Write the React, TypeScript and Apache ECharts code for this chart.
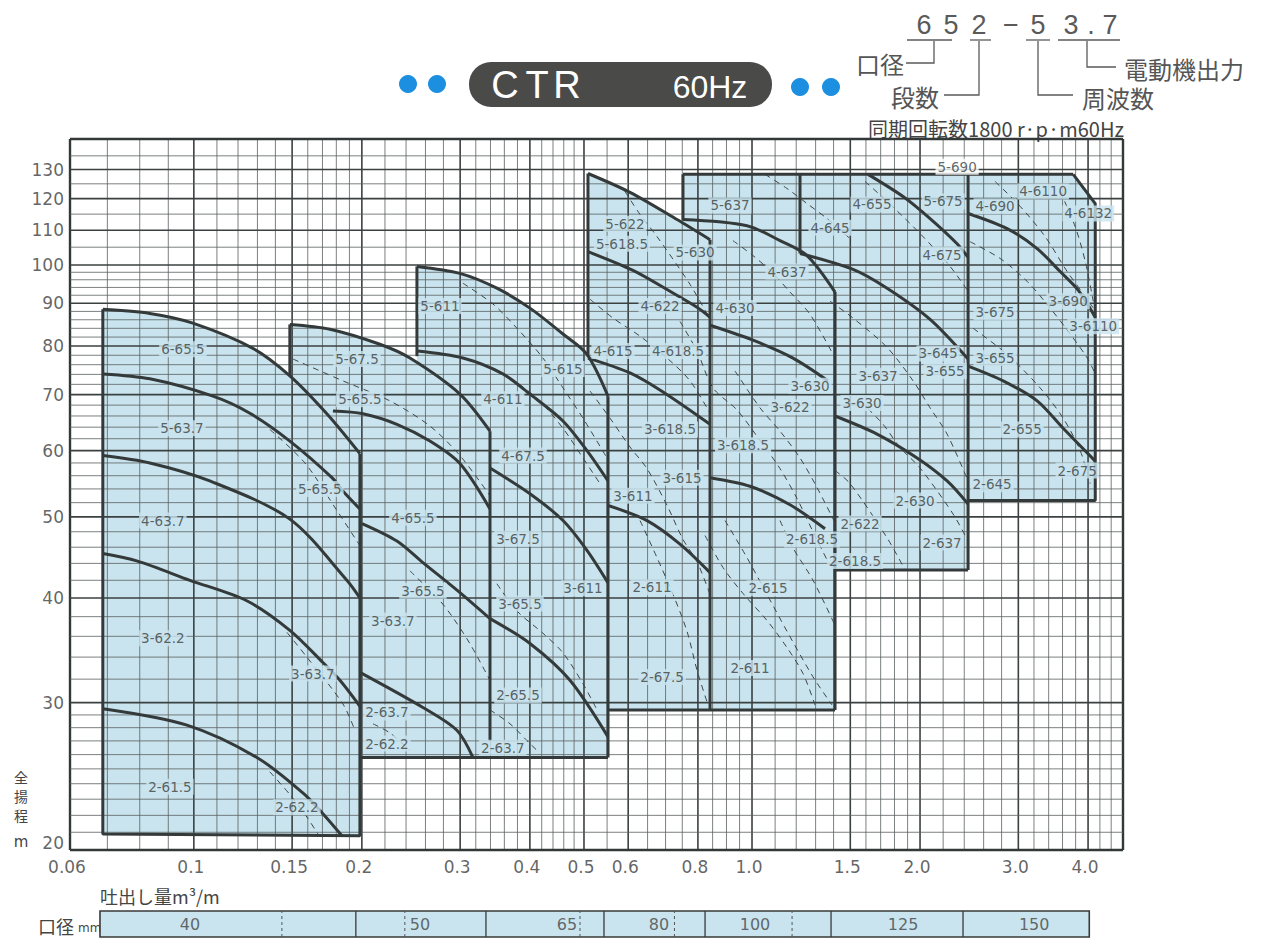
import React, { useEffect, useRef } from "react";
import * as echarts from "echarts";

// ---- axis extents: flow (m³/min) × total head (m), log–log paper ----
const Q_MIN = 0.06;
const Q_MAX = 4.62;
const H_MIN = 20;
const H_MAX = 141.4;

const xTickValues = [0.06, 0.1, 0.15, 0.2, 0.3, 0.4, 0.5, 0.6, 0.8, 1.0, 1.5, 2.0, 3.0, 4.0];
const xTickLabels = ["0.06", "0.1", "0.15", "0.2", "0.3", "0.4", "0.5", "0.6", "0.8", "1.0", "1.5", "2.0", "3.0", "4.0"];
const yTickValues = [20, 30, 40, 50, 60, 70, 80, 90, 100, 110, 120, 130];

const flowGridMinor = [0.07, 0.08, 0.09, 0.11, 0.12, 0.13, 0.14, 0.16, 0.17, 0.18, 0.19, 0.22, 0.24, 0.26, 0.28, 0.32, 0.34, 0.36, 0.38, 0.42, 0.44, 0.46, 0.48, 0.55, 0.65, 0.7, 0.75, 0.85, 0.9, 0.95, 1.1, 1.2, 1.3, 1.4, 1.6, 1.7, 1.8, 1.9, 2.2, 2.4, 2.6, 2.8, 3.2, 3.4, 3.6, 3.8, 4.2, 4.4];
const flowGridMajor = [0.1, 0.15, 0.2, 0.3, 0.4, 0.5, 0.6, 0.8, 1.0, 1.5, 2.0, 3.0, 4.0];
const headGridMinor = [21, 22, 23, 24, 25, 26, 27, 28, 29, 32, 34, 36, 38, 42, 44, 46, 48, 52, 54, 56, 58, 62, 64, 66, 68, 72, 74, 76, 78, 82, 84, 86, 88, 92, 94, 96, 98, 105, 115, 125, 135];
const headGridMajor = [30, 40, 50, 60, 70, 80, 90, 100, 110, 120, 130];

// ---- selection areas per bore (40 / 50 / 65 / 80 / 100 / 125 / 150 mm) ----
const region40 = [[0.0687, 88.5], [0.0834, 87.5], [0.0996, 85.2], [0.1276, 79.5], [0.1486, 73.7], [0.1731, 66.4], [0.1984, 59.5], [0.1984, 20.8], [0.0687, 20.9]];
const region50 = [[0.1486, 84.9], [0.1753, 83.8], [0.2154, 80.4], [0.2439, 77.4], [0.2997, 70.1], [0.3393, 63.3], [0.3393, 25.8], [0.1486, 25.8]];
const region65 = [[0.251, 99.6], [0.2997, 97.7], [0.3491, 93.8], [0.4001, 88.8], [0.4585, 82.7], [0.5062, 78.2], [0.5521, 69.7], [0.5521, 25.8], [0.251, 25.8]];
const region80 = [[0.5083, 128.6], [0.6045, 122.1], [0.7339, 113.3], [0.841, 107.2], [0.841, 29.4], [0.5083, 29.4]];
const region100 = [[0.7522, 128.3], [1.4085, 128.3], [1.4085, 29.4], [0.7522, 29.4]];
const region125 = [[1.219, 128.3], [2.4384, 128.3], [2.4384, 43.2], [1.219, 43.2]];
const region150 = [[2.4384, 128.3], [3.762, 128.3], [4.1203, 118.4], [4.1203, 52.3], [2.4384, 52.3]];

// visible outline edges of the areas
const areaEdges = [
  [[0.0687, 88.5], [0.0687, 20.9], [0.1984, 20.8], [0.1984, 59.5]],
  [[0.1486, 84.9], [0.1486, 73.7]],
  [[0.3393, 63.3], [0.3393, 27.0]],
  [[0.1984, 25.8], [0.5521, 25.8]],
  [[0.251, 99.6], [0.251, 77.8]],
  [[0.5521, 69.7], [0.5521, 25.8]],
  [[0.5083, 128.6], [0.5083, 77.8]],
  [[0.841, 107.2], [0.841, 29.4]],
  [[0.5521, 29.4], [1.4085, 29.4]],
  [[0.7522, 128.3], [3.762, 128.3]],
  [[0.7522, 128.3], [0.7522, 113.0]],
  [[1.4085, 92.8], [1.4085, 29.4]],
  [[1.219, 128.3], [1.219, 103.2]],
  [[2.4384, 128.3], [2.4384, 43.2]],
  [[1.4085, 43.2], [2.4384, 43.2]],
  [[3.762, 128.3], [4.1203, 118.4], [4.1203, 52.3], [2.4384, 52.3]],
];

// ---- head–capacity curves (solid) ----
const curves40 = [
  [[0.0687, 88.5], [0.0834, 87.5], [0.0996, 85.2], [0.1276, 79.5], [0.1486, 73.7], [0.1731, 66.4], [0.1984, 59.5]],
  [[0.0687, 74.1], [0.0834, 73.1], [0.1082, 69.7], [0.126, 66.5], [0.1486, 61.6], [0.1768, 55.7], [0.1849, 53.7], [0.1984, 51.1]],
  [[0.0687, 59.2], [0.0834, 58.0], [0.1068, 55.2], [0.1486, 49.7], [0.188, 42.0], [0.1984, 40.0]],
  [[0.0687, 45.2], [0.079, 44.3], [0.0984, 42.0], [0.1244, 39.7], [0.1486, 36.6], [0.1703, 33.5], [0.1827, 31.9], [0.1984, 29.7]],
  [[0.0687, 29.5], [0.0972, 28.2], [0.1297, 25.8], [0.1568, 23.4], [0.1703, 22.1], [0.1842, 20.8]],
];
const curves50 = [
  [[0.1486, 84.9], [0.1753, 83.8], [0.2154, 80.4], [0.2439, 77.4], [0.2997, 70.1], [0.3393, 63.3]],
  [[0.1775, 66.9], [0.2009, 66.4], [0.2311, 64.5], [0.2648, 61.6], [0.2997, 57.9], [0.3393, 51.1]],
  [[0.2001, 49.1], [0.2311, 46.8], [0.2573, 44.1], [0.2972, 40.8], [0.3393, 37.8]],
  [[0.1984, 32.6], [0.2573, 29.6], [0.296, 27.8], [0.3162, 25.8]],
];
const curves65 = [
  [[0.251, 99.6], [0.2997, 97.7], [0.3491, 93.8], [0.4001, 88.8], [0.4585, 82.7], [0.5062, 78.2], [0.5521, 69.7]],
  [[0.251, 78.9], [0.3034, 77.4], [0.3578, 74.1], [0.4001, 70.1], [0.4585, 65.1], [0.5062, 60.0], [0.5521, 55.2]],
  [[0.3393, 57.2], [0.4001, 53.3], [0.4585, 49.5], [0.5062, 45.6], [0.5521, 41.7]],
  [[0.3393, 37.8], [0.4001, 35.3], [0.4719, 31.9], [0.5521, 27.3]],
];
const curves80 = [
  [[0.5083, 128.6], [0.6045, 122.1], [0.7339, 113.3], [0.841, 107.2]],
  [[0.5083, 103.7], [0.612, 98.5], [0.7129, 93.0], [0.797, 89.0], [0.841, 86.6]],
  [[0.5083, 77.4], [0.6045, 74.3], [0.6928, 70.5], [0.841, 64.5]],
  [[0.5521, 51.6], [0.6485, 49.5], [0.743, 46.4], [0.841, 42.9]],
];
const curves100 = [
  [[0.7522, 113.3], [0.9795, 111.4], [1.1225, 106.9], [1.2547, 102.6], [1.4085, 92.8]],
  [[0.841, 84.7], [1.0042, 81.3], [1.1844, 77.4], [1.3683, 72.7]],
  [[0.841, 55.7], [0.9918, 54.4], [1.1698, 51.7], [1.3513, 48.4]],
];
const curves125 = [
  [[1.614, 128.3], [1.8648, 120.7], [2.0845, 113.6], [2.3304, 106.0], [2.4384, 102.1]],
  [[1.219, 103.2], [1.5171, 98.8], [1.7458, 93.8], [2.0845, 86.1], [2.4384, 77.2]],
  [[1.4085, 66.0], [1.6749, 62.8], [1.9758, 58.8], [2.2361, 55.2], [2.4384, 51.8]],
];
const curves150 = [
  [[2.4384, 115.2], [2.8643, 110.5], [3.242, 104.6], [3.5649, 98.2], [3.8403, 93.3], [4.1203, 86.6]],
  [[2.4384, 75.7], [2.8173, 72.7], [3.242, 68.8], [3.6093, 63.8], [4.1203, 58.3]],
];

// ---- alternative-motor curves (dashed) ----
const dashedCurves = [
  [[0.1368, 63.6], [0.1581, 58.0], [0.1804, 50.9], [0.1984, 46.2]],
  [[0.1468, 36.4], [0.1594, 34.0], [0.1849, 29.9], [0.1943, 27.8]],
  [[0.1368, 24.8], [0.1486, 23.3], [0.1594, 21.9], [0.1668, 20.9]],
  [[0.1505, 77.2], [0.1849, 72.7], [0.2245, 68.8], [0.2648, 64.2], [0.2997, 59.2], [0.3393, 53.0]],
  [[0.2439, 43.1], [0.276, 39.7], [0.2912, 37.9], [0.3122, 35.3], [0.3393, 31.9]],
  [[0.2094, 28.3], [0.2245, 27.6], [0.2439, 26.3]],
  [[0.3034, 95.1], [0.3435, 89.8], [0.3793, 84.0], [0.4222, 77.4], [0.4585, 71.3], [0.4979, 65.6], [0.5498, 58.8]],
  [[0.3685, 73.3], [0.4119, 69.3], [0.4585, 63.8], [0.4979, 58.8], [0.5341, 54.8]],
  [[0.3491, 41.6], [0.3793, 38.6], [0.4222, 36.3], [0.4585, 34.4], [0.4979, 31.6], [0.5277, 29.4]],
  [[0.3393, 29.4], [0.3685, 28.3], [0.4001, 26.8], [0.417, 26.1]],
  [[0.5921, 122.4], [0.6301, 114.9], [0.6758, 108.1], [0.7743, 94.8], [0.841, 86.1]],
  [[0.5126, 91.0], [0.5636, 86.4], [0.6301, 82.2], [0.7044, 77.4], [0.7743, 72.7], [0.841, 66.5]],
  [[0.5126, 70.7], [0.5567, 65.6], [0.6045, 60.6], [0.6485, 57.1], [0.7044, 51.6], [0.7522, 47.0], [0.797, 44.2], [0.841, 40.4]],
  [[0.6301, 49.5], [0.6758, 44.7], [0.7219, 40.4], [0.7648, 36.5], [0.797, 32.8], [0.8341, 29.8]],
  [[0.9322, 74.7], [1.0335, 67.5], [1.1225, 63.3], [1.219, 58.8], [1.3077, 54.2], [1.4085, 49.2]],
  [[0.8239, 47.5], [0.8873, 43.5], [0.9636, 40.5], [1.0639, 37.6], [1.1553, 34.9], [1.2342, 32.5], [1.2968, 29.8]],
  [[1.1225, 49.5], [1.1844, 45.9], [1.2862, 42.0], [1.4085, 37.1]],
  [[0.743, 85.6], [0.797, 78.9], [0.8514, 71.3], [0.94, 67.1], [1.0335, 61.7], [1.1225, 57.1], [1.204, 52.6], [1.2862, 48.0], [1.3797, 43.7]],
  [[0.9245, 106.9], [1.0042, 102.6], [1.0905, 97.7], [1.1698, 92.8], [1.2703, 87.3], [1.4085, 77.4]],
  [[0.8947, 49.5], [0.9795, 44.7], [1.0639, 40.4], [1.1553, 36.5], [1.2862, 32.2], [1.3912, 29.8]],
  [[1.0551, 128.3], [1.1553, 123.4], [1.2547, 118.4], [1.3626, 113.6], [1.4986, 107.5]],
  [[1.594, 125.8], [1.7458, 119.1], [2.0004, 109.0], [2.2637, 99.6], [2.4384, 93.0]],
  [[1.3797, 90.5], [1.5171, 86.4], [1.7458, 79.7], [1.9434, 72.7], [2.0845, 67.5], [2.2361, 62.8], [2.4384, 55.2]],
  [[1.5614, 68.8], [1.7172, 64.5], [1.8418, 60.5], [2.0004, 57.2], [2.292, 50.4], [2.4384, 46.8]],
  [[1.4085, 56.8], [1.4986, 54.8], [1.7458, 47.2], [1.8803, 43.2]],
  [[2.7258, 125.8], [3.022, 117.5], [3.3509, 108.1], [3.6696, 98.2], [3.9534, 91.7], [4.1203, 88.1]],
  [[2.4587, 106.6], [2.7826, 101.8], [3.1101, 95.6], [3.421, 88.8], [3.7155, 82.7], [3.9863, 77.4], [4.1203, 74.1]],
  [[2.4895, 84.0], [2.8643, 78.2], [3.2822, 71.3], [3.6093, 65.6], [3.8723, 60.0], [4.0358, 54.8]],
  [[3.5649, 122.4], [3.7933, 111.1], [3.9534, 101.0], [4.0862, 90.5]],
];

// ---- model labels: stages-60Hz motor kW ----
const labels40 = [[0.0956, 79.3, "6-65.5"], [0.0952, 63.8, "5-63.7"], [0.088, 49.5, "4-63.7"], [0.088, 35.8, "3-62.2"], [0.0906, 23.8, "2-61.5"], [0.1682, 54.0, "5-65.5"], [0.1634, 32.5, "3-63.7"], [0.153, 22.5, "2-62.2"]];
const labels50 = [[0.196, 77.2, "5-67.5"], [0.1984, 69.1, "5-65.5"], [0.2469, 49.9, "4-65.5"], [0.2573, 40.8, "3-65.5"], [0.2273, 37.6, "3-63.7"], [0.2218, 29.2, "2-63.7"], [0.2218, 26.8, "2-62.2"]];
const labels65 = [[0.276, 89.3, "5-611"], [0.3578, 69.1, "4-611"], [0.4585, 75.1, "5-615"], [0.3888, 59.2, "4-67.5"], [0.3808, 47.1, "3-67.5"], [0.4979, 41.1, "3-611"], [0.384, 39.4, "3-65.5"], [0.3808, 30.6, "2-65.5"], [0.3578, 26.5, "2-63.7"]];
const labels80 = [[0.5636, 78.9, "4-615"], [0.5921, 112.0, "5-622"], [0.5848, 106.0, "5-618.5"], [0.7904, 103.5, "5-630"], [0.6842, 89.3, "4-622"], [0.737, 78.9, "4-618.5"], [0.7129, 63.6, "3-618.5"], [0.7492, 55.7, "3-615"], [0.612, 53.0, "3-611"], [0.662, 41.2, "2-611"], [0.69, 32.2, "2-67.5"]];
const labels100 = [[0.9132, 117.8, "5-637"], [1.1553, 98.2, "4-637"], [0.9322, 88.8, "4-630"], [1.2703, 71.7, "3-630"], [1.1698, 67.6, "3-622"], [0.9636, 60.9, "3-618.5"], [1.2809, 47.0, "2-618.5"], [1.0683, 41.1, "2-615"], [0.9918, 33.0, "2-611"]];
const labels125 = [[1.3797, 110.8, "4-645"], [1.6407, 118.1, "4-655"], [2.1994, 119.1, "5-675"], [2.1903, 102.9, "4-675"], [2.1543, 78.4, "3-645"], [2.2177, 74.7, "3-655"], [1.6818, 73.7, "3-637"], [1.5744, 68.4, "3-630"], [1.9595, 52.3, "2-630"], [1.5614, 49.1, "2-622"], [1.5298, 44.3, "2-618.5"], [2.1903, 46.6, "2-637"]];
const labels150 = [[2.3304, 131.0, "5-690"], [2.7258, 117.5, "4-690"], [3.3232, 122.4, "4-6110"], [4.0029, 115.2, "4-6132"], [3.6849, 90.5, "3-690"], [2.7258, 87.8, "3-675"], [4.0862, 84.5, "3-6110"], [2.7258, 77.4, "3-655"], [3.0471, 63.6, "2-655"], [3.8245, 56.8, "2-675"], [2.6922, 54.7, "2-645"]];

// ---- bore strip under the chart ----
const boreStripRange = [0.0679, 4.02];
const boreSolidDividers = [0.1951, 0.3337, 0.543, 0.8239, 1.3855, 2.388];
const boreDashedDividers = [0.1438, 0.2388, 0.4918, 0.7262, 1.1797];
const boreLabelFlows = [0.0984, 0.2541, 0.4661, 0.6813, 1.0125, 1.8648, 3.203];
const boreLabelTexts = ["40", "50", "65", "80", "100", "125", "150"];

const BLUE = "#c9e4ee";
const INK = "#343a3a";
const DOT = "#1d8fe0";
const GREY = "#555";
const CJK = '"Noto Sans CJK JP"';

function buildOption() {
  const regions = [region40, region50, region65, region80, region100, region125, region150];
  const gridStyles = [
    { stroke: "#5a5f60", lineWidth: 0.8, fill: null },
    { stroke: "#3b4041", lineWidth: 1.6, fill: null },
    { stroke: "#333838", lineWidth: 2.4, fill: null },
  ];
  const series: any[] = [];

  series.push({
    type: "custom", z: 1, silent: true,
    data: regions.map((r) => r[0]),
    renderItem: (params: any, api: any) => ({
      type: "polygon",
      shape: { points: regions[params.dataIndex].map((p) => api.coord(p)) },
      style: { fill: BLUE },
    }),
  });

  series.push({
    type: "custom", z: 2, silent: true, clip: false,
    data: [
      ...flowGridMinor.map((q) => [q, H_MIN, 0]),
      ...flowGridMajor.map((q) => [q, H_MIN, 1]),
      [Q_MIN, H_MIN, 2], [Q_MAX, H_MIN, 2],
    ],
    renderItem: (_p: any, api: any) => {
      const q = api.value(0);
      const a = api.coord([q, H_MIN]);
      const b = api.coord([q, H_MAX]);
      return { type: "line", shape: { x1: a[0], y1: a[1], x2: b[0], y2: b[1] }, style: gridStyles[api.value(2)] };
    },
  });

  series.push({
    type: "custom", z: 2, silent: true, clip: false,
    data: [
      ...headGridMinor.map((h) => [Q_MIN, h, 0]),
      ...headGridMajor.map((h) => [Q_MIN, h, 1]),
      [Q_MIN, H_MIN, 2], [Q_MIN, H_MAX, 2],
    ],
    renderItem: (_p: any, api: any) => {
      const h = api.value(1);
      const a = api.coord([Q_MIN, h]);
      const b = api.coord([Q_MAX, h]);
      return { type: "line", shape: { x1: a[0], y1: a[1], x2: b[0], y2: b[1] }, style: gridStyles[api.value(2)] };
    },
  });

  const line = (pts: any, width: number, color: string, type: any, smooth: any, z: number) => ({
    type: "line", data: pts, symbol: "none", showSymbol: false, silent: true, smooth, z,
    lineStyle: { width, color, type }, emphasis: { disabled: true },
  });

  dashedCurves.forEach((pts) => series.push(line(pts, 1, "#3f4545", [6, 5], 0.3, 3)));
  [...curves40, ...curves50, ...curves65, ...curves80, ...curves100, ...curves125, ...curves150].forEach((pts) =>
    series.push(line(pts, 3, INK, "solid", 0.3, 4))
  );
  areaEdges.forEach((pts) => series.push(line(pts, 3, INK, "solid", false, 4)));

  const allLabels = [...labels40, ...labels50, ...labels65, ...labels80, ...labels100, ...labels125, ...labels150];
  series.push({
    type: "scatter", z: 6, silent: true, symbolSize: 0, clip: false,
    data: allLabels.map(([q, h, t]: any) => ({
      value: [q, h], name: t,
      label: t === "5-690" ? { backgroundColor: "#fff" } : undefined,
    })),
    label: {
      show: true, position: "inside", formatter: "{b}",
      fontFamily: "DejaVu Sans", fontSize: 13.5, color: "#3a3f3f",
      backgroundColor: BLUE, padding: [1, 2],
    },
  });

  // tick labels
  series.push({
    type: "scatter", z: 6, silent: true, symbolSize: 0, clip: false,
    data: xTickValues.map((v, i) => ({ value: [v, H_MIN], name: xTickLabels[i] })),
    label: { show: true, position: "bottom", distance: 8, offset: [-3, 0], formatter: "{b}", fontFamily: "DejaVu Sans", fontSize: 17, color: "#3c3c3c" },
  });
  series.push({
    type: "scatter", z: 6, silent: true, symbolSize: 0, clip: false,
    data: yTickValues.map((v) => ({
      value: [Q_MIN, v], name: String(v),
      label: v === H_MIN ? { offset: [0, -7] } : undefined,
    })),
    label: { show: true, position: "left", distance: 6, formatter: "{b}", fontFamily: "DejaVu Sans", fontSize: 17, color: "#3c3c3c" },
  });

  // bore strip
  series.push({
    type: "custom", xAxisIndex: 1, yAxisIndex: 1, silent: true, clip: false,
    data: [[boreStripRange[0], 0]],
    renderItem: (_p: any, api: any) => {
      const a = api.coord([boreStripRange[0], 1]);
      const b = api.coord([boreStripRange[1], 0]);
      return { type: "rect", shape: { x: a[0], y: a[1], width: b[0] - a[0], height: b[1] - a[1] }, style: { fill: BLUE, stroke: "#3a3a3a", lineWidth: 1.6 } };
    },
  });
  series.push({
    type: "custom", xAxisIndex: 1, yAxisIndex: 1, silent: true, clip: false, z: 3,
    data: [...boreSolidDividers.map((q) => [q, 0, 0]), ...boreDashedDividers.map((q) => [q, 0, 1])],
    renderItem: (_p: any, api: any) => {
      const q = api.value(0);
      const a = api.coord([q, 0]);
      const b = api.coord([q, 1]);
      const dashed = api.value(2) === 1;
      return {
        type: "line", shape: { x1: a[0], y1: a[1], x2: b[0], y2: b[1] },
        style: { stroke: dashed ? "#555" : "#3a3a3a", lineWidth: dashed ? 1 : 1.3, lineDash: dashed ? [3, 3] : null, fill: null },
      };
    },
  });
  series.push({
    type: "scatter", xAxisIndex: 1, yAxisIndex: 1, z: 6, silent: true, symbolSize: 0, clip: false,
    data: boreLabelFlows.map((q, i) => ({ value: [q, 0.5], name: boreLabelTexts[i] })),
    label: { show: true, position: "inside", formatter: "{b}", fontFamily: "DejaVu Sans", fontSize: 16, color: "#444" },
  });

  const txt = (text: string, x: number, y: number, font: string, fill: string, align = "center", extra: any = {}) => ({
    type: "text", x, y, silent: true,
    style: { text, font, fill, textAlign: align, textVerticalAlign: "middle", align, verticalAlign: "middle", ...extra },
  });

  const codeChars = [["6", 924], ["5", 951], ["2", 979], ["−", 1011], ["5", 1038], ["3", 1071], [".", 1091], ["7", 1110]];
  const codeUnderlines = [[907, 952], [970, 991], [1026, 1050], [1058, 1120]];
  const codeBrackets = [
    [[934, 41], [934, 63], [906, 63]],
    [[979, 41], [979, 95], [944, 95]],
    [[1038, 41], [1038, 95], [1073, 95]],
    [[1087, 41], [1087, 67], [1116, 67]],
  ];

  const graphic: any[] = [
    { type: "circle", shape: { cx: 408, cy: 84, r: 9 }, style: { fill: DOT } },
    { type: "circle", shape: { cx: 437, cy: 84, r: 9 }, style: { fill: DOT } },
    { type: "circle", shape: { cx: 800, cy: 87, r: 9 }, style: { fill: DOT } },
    { type: "circle", shape: { cx: 831, cy: 87, r: 9 }, style: { fill: DOT } },
    { type: "rect", shape: { x: 469, y: 62, width: 303, height: 45, r: 22 }, style: { fill: "#4a4a48" } },
    txt("C", 505, 85, '38px "Liberation Sans"', "#fff"),
    txt("T", 537, 85, '38px "Liberation Sans"', "#fff"),
    txt("R", 567, 85, '38px "Liberation Sans"', "#fff"),
    txt("60Hz", 710, 87, '32px "Liberation Sans"', "#fff"),
    ...codeChars.map(([c, x]: any) => txt(c, x, 25, '27px "Liberation Sans"', "#5a5a5a")),
    ...codeUnderlines.map(([x1, x2]) => ({ type: "line", shape: { x1, y1: 40, x2, y2: 40 }, style: { stroke: "#5a5a5a", lineWidth: 1.3 } })),
    ...codeBrackets.map((pts) => ({ type: "polyline", shape: { points: pts }, style: { stroke: "#5a5a5a", lineWidth: 1.3, fill: null } })),
    txt("口径", 880, 63, `24px ${CJK}`, GREY),
    txt("段数", 915, 96, `24px ${CJK}`, GREY),
    txt("周波数", 1118, 97, `24px ${CJK}`, GREY),
    txt("電動機出力", 1184, 68, `24px ${CJK}`, GREY),
    txt("同期回転数1800 r·p·m60Hz", 1124, 128, `20px ${CJK}`, "#444", "right"),
    txt("全", 21, 777, `14px ${CJK}`, "#444"),
    txt("揚", 21, 796, `14px ${CJK}`, "#444"),
    txt("程", 21, 815, `14px ${CJK}`, "#444"),
    txt("m", 21, 842, '15px "DejaVu Sans"', "#444"),
    txt("吐出し量m³/m", 100, 896, `18px ${CJK}`, "#444", "left"),
    txt("口径", 56, 926, `18px ${CJK}`, "#444"),
    txt("mm", 78, 928, '12px "DejaVu Sans"', "#444", "left"),
  ];

  return {
    animation: false,
    backgroundColor: "#fff",
    grid: [
      { left: 70, top: 139, width: 1053, height: 711, containLabel: false },
      { left: 70, top: 911, width: 1053, height: 26, containLabel: false },
    ],
    xAxis: [
      { type: "log", logBase: 10, min: Q_MIN, max: Q_MAX, gridIndex: 0, show: false },
      { type: "log", logBase: 10, min: Q_MIN, max: Q_MAX, gridIndex: 1, show: false },
    ],
    yAxis: [
      { type: "log", logBase: 10, min: H_MIN, max: H_MAX, gridIndex: 0, show: false },
      { type: "value", min: 0, max: 1, gridIndex: 1, show: false },
    ],
    series,
    graphic,
  };
}

export default function App() {
  const ref = useRef<HTMLDivElement>(null);
  useEffect(() => {
    if (!ref.current) return;
    const chart = echarts.init(ref.current, undefined, { renderer: "svg" });
    chart.setOption(buildOption() as any);
    return () => chart.dispose();
  }, []);
  return (
    <div
      ref={ref}
      style={{ position: "absolute", left: 0, top: 0, width: 1263, height: 944, background: "#fff" }}
    />
  );
}
